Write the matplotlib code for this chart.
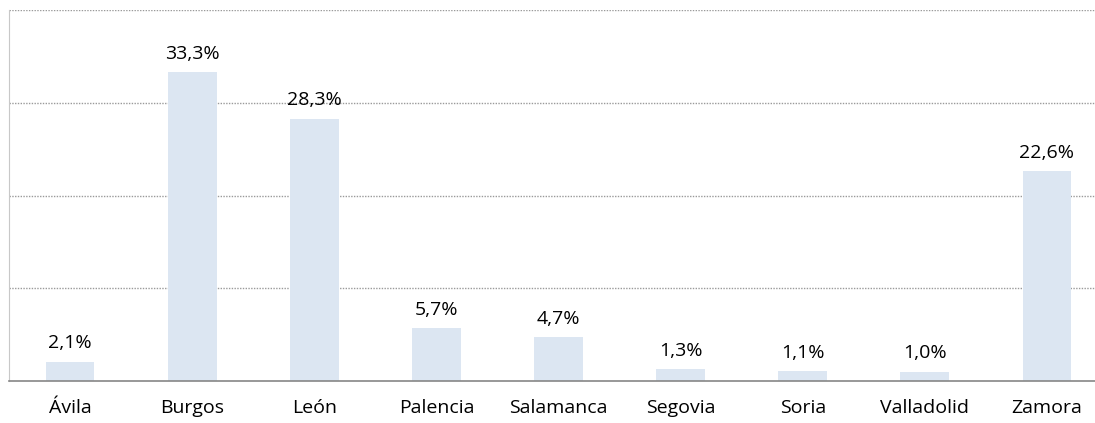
import matplotlib.pyplot as plt
import numpy as np

provinces = ["Ávila", "Burgos", "León", "Palencia", "Salamanca",
             "Segovia", "Soria", "Valladolid", "Zamora"]
shares = [2.1, 33.3, 28.3, 5.7, 4.7, 1.3, 1.1, 1.0, 22.6]
grid_levels = [10, 20, 30, 40]

plt.rcParams['font.family'] = ['Open Sans', 'DejaVu Sans']

fig = plt.figure(figsize=(10.95, 4.23), dpi=100)
ax = fig.add_axes([0.0082, 0.0993, 1.0037, 0.8770])

x = np.arange(len(provinces))
ax.bar(x, shares, width=0.4, color="#dce6f2", zorder=2)

# value labels above each bar, decimal comma
for xi, v in zip(x, shares):
    ax.text(xi, v + 1.0, f"{v:.1f}%".replace(".", ","), ha="center", va="bottom",
            fontsize=14, color="#000000")

for g in grid_levels:
    ax.axhline(g, color="#9a9a9a", linestyle=(0, (1, 1)), linewidth=1.0, zorder=1)

ax.set_xlim(-0.5, len(provinces) - 0.5)
ax.set_ylim(0, 40)
ax.set_yticks([])
ax.set_xticks(x)
ax.set_xticklabels(provinces, fontsize=14)
ax.tick_params(axis="x", length=0, pad=13)

for side in ["top", "right"]:
    ax.spines[side].set_visible(False)
ax.spines["left"].set_color("#c8c8c8")
ax.spines["bottom"].set_color("#868686")
ax.spines["bottom"].set_linewidth(1.2)

fig.savefig("out.png", dpi=100)
